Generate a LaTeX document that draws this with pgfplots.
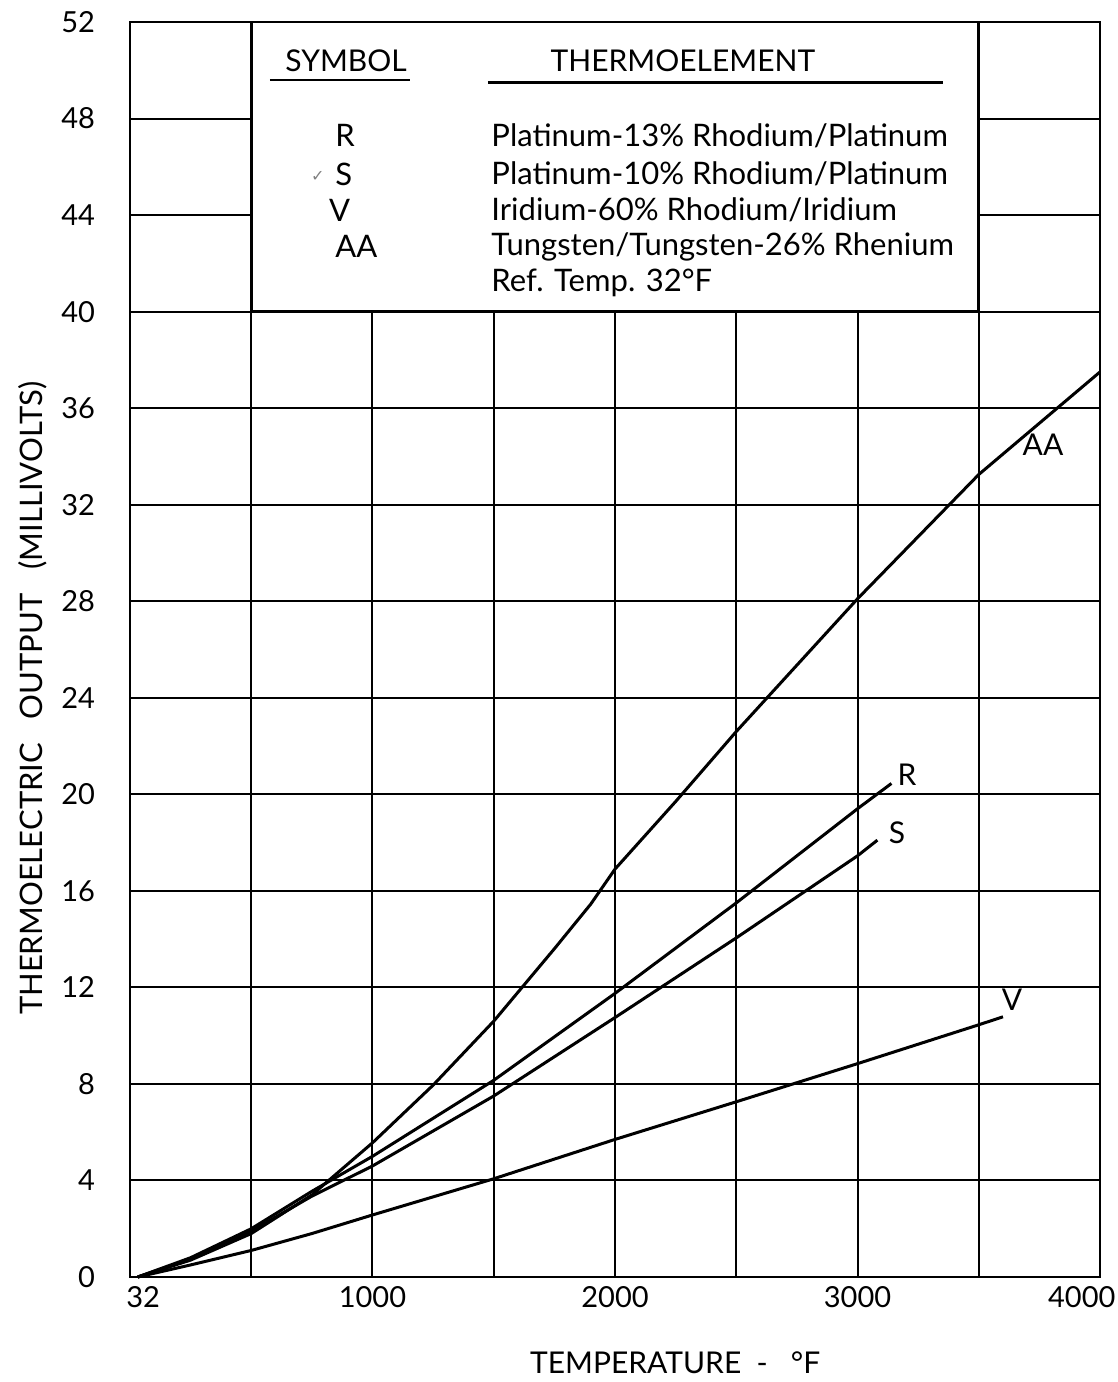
\documentclass[border=0pt]{standalone}
\usepackage{fontspec}
\setmainfont{Lato}
\newfontfamily\dejavu{DejaVu Sans}
\usepackage{pgfplots}
\pgfplotsset{compat=1.18}
\begin{document}
\begin{tikzpicture}
\useasboundingbox (-65pt,-52.5pt) rectangle (494pt,638.5pt);
\begin{axis}[
 scale only axis, width=485pt, height=627.5pt,
 xmin=0, xmax=4000, ymin=0, ymax=52,
 xtick={0,500,...,4000}, xticklabels={,,1000,,2000,,3000,,},
 ytick={0,4,...,52},
 extra x ticks={54,3925}, extra x tick labels={32,4000},
 extra x tick style={grid=none, major tick length=0pt},
 grid=major, major grid style={line width=1pt, black},
 major tick length=0pt,
 axis line style={line width=1.3pt},
 tick label style={font=\fontsize{14.5}{16}\selectfont},
 /pgf/number format/assume math mode=true,
 yticklabel style={xshift=-14pt},
 xticklabel style={yshift=-1pt},
 clip=false,
]
% legend box
\draw[line width=1.3pt, fill=white] (axis cs:500,40) rectangle (axis cs:3500,52);
\node[font=\fontsize{15}{17}\selectfont] at (axis cs:891,50.4) {SYMBOL};
\draw[line width=1pt] (axis cs:577,49.6) -- (axis cs:1155,49.6);
\node[font=\fontsize{15}{17}\selectfont] at (axis cs:2280,50.4) {THERMOELEMENT};
\draw[line width=1.2pt] (axis cs:1476,49.5) -- (axis cs:3353,49.5);
\begin{scope}[every node/.style={font=\fontsize{15.5}{17}\selectfont, anchor=west, inner sep=0pt}]
\node at (axis cs:845,47.3) {R};
\node at (axis cs:845,45.7) {S};
\node at (axis cs:820,44.2) {V};
\node at (axis cs:845,42.7) {AA};
\node at (axis cs:1489,47.3) {Platinum-13\% Rhodium/Platinum};
\node at (axis cs:1489,45.7) {Platinum-10\% Rhodium/Platinum};
\node at (axis cs:1489,44.2) {Iridium-60\% Rhodium/Iridium};
\node at (axis cs:1489,42.7) {Tungsten/Tungsten-26\% Rhenium};
\node at (axis cs:1489,41.2) {Ref. Temp. 32°F};
\end{scope}
\node[text=gray, font=\dejavu\fontsize{8}{8}\selectfont] at (axis cs:775,45.6) {✓};
% curves
\addplot[line width=1.5pt, black] coordinates {(32,0) (250,0.8) (500,2.0) (750,3.55) (1000,5.0) (1500,8.15) (2000,11.75) (2500,15.5) (3000,19.4) (3140,20.45)};
\addplot[line width=1.5pt, black] coordinates {(32,0) (250,0.75) (500,1.9) (750,3.35) (1000,4.6) (1500,7.5) (2000,10.75) (2500,14.05) (3000,17.45) (3082,18.1)};
\addplot[line width=1.5pt, black] coordinates {(32,0) (250,0.7) (500,1.8) (750,3.4) (1000,5.56) (1250,7.95) (1500,10.6) (1750,13.6) (1900,15.45) (2000,16.9) (2250,19.7) (2500,22.6) (3000,28.1) (3500,33.25) (4000,37.5)};
\addplot[line width=1.5pt, black] coordinates {(32,0) (250,0.5) (500,1.1) (750,1.8) (1000,2.57) (1500,4.07) (2000,5.7) (2500,7.26) (3000,8.84) (3500,10.45) (3600,10.78)};
% curve labels
\begin{scope}[every node/.style={font=\fontsize{15}{17}\selectfont}]
\node at (axis cs:3765,34.5) {AA};
\node at (axis cs:3204,20.8) {R};
\node at (axis cs:3163,18.4) {S};
\node at (axis cs:3637,11.5) {V};
\end{scope}
% axis labels
\node[rotate=90, font=\fontsize{15.5}{17}\selectfont] at (rel axis cs:-0.100,0.461) {THERMOELECTRIC\ \ \ OUTPUT\ \ \ (MILLIVOLTS)};
\node[font=\fontsize{15}{17}\selectfont] at (rel axis cs:0.562,-0.068) {TEMPERATURE\ \ -\ \ \ °F};
\end{axis}
\end{tikzpicture}
\end{document}
